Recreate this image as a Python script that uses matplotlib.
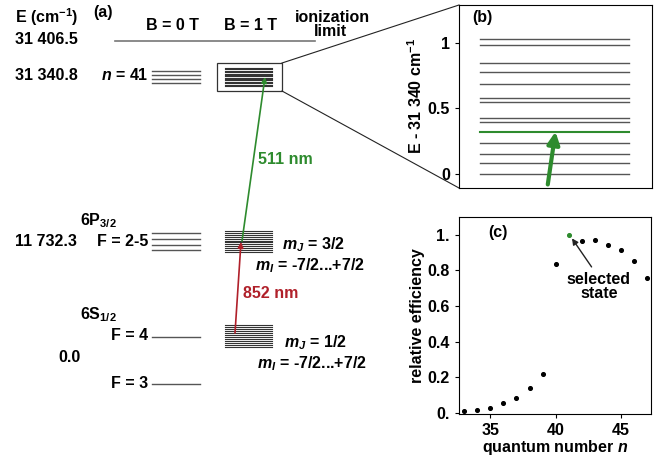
import numpy as np
import matplotlib.pyplot as plt
from matplotlib.patches import Rectangle

plt.rcParams['font.family'] = ['Liberation Sans', 'DejaVu Sans']
plt.rcParams['font.weight'] = 'bold'
plt.rcParams['axes.labelweight'] = 'bold'
plt.rcParams['mathtext.fontset'] = 'custom'
plt.rcParams['mathtext.rm'] = 'Liberation Sans:bold'
plt.rcParams['mathtext.it'] = 'Liberation Sans:italic:bold'
plt.rcParams['mathtext.bf'] = 'Liberation Sans:bold'

GREEN = '#2e8b2e'
RED = '#b0202a'

# panel (b): levels near n = 41 at B = 1 T (E - 31340 cm^-1)
b_levels = [1.03, 0.985, 0.85, 0.775, 0.687, 0.582, 0.548, 0.425, 0.40,
            0.24, 0.153, 0.086, 0.002]
b_selected = 0.323

# panel (c): relative efficiency vs quantum number
n_vals = [33, 34, 35, 36, 37, 38, 39, 40, 42, 43, 44, 45, 46, 47]
eff_vals = [0.01, 0.02, 0.03, 0.055, 0.085, 0.14, 0.22, 0.835,
            0.965, 0.97, 0.945, 0.915, 0.855, 0.76]
n_sel, eff_sel = 41, 1.0

# panel (a): level diagram, positions in figure pixels
ryd_b0 = [71, 75, 79, 83]
p_b0 = [233, 239, 245, 250]
s_b0 = [337, 384]
ryd_b1 = np.linspace(68, 86, 14)
p_b1 = np.linspace(231, 252, 12)
s_b1 = np.linspace(325, 347, 12)

W, H = 659, 457
fig = plt.figure(figsize=(W / 100, H / 100), dpi=100)

ax = fig.add_axes([0, 0, 1, 1])
ax.set_xlim(0, W)
ax.set_ylim(H, 0)
ax.axis('off')

fs = 11.5
ax.plot([115, 315], [41, 41], color='#777777', lw=1.2)
for y in ryd_b0 + p_b0 + s_b0:
    ax.plot([152, 200], [y, y], color='#555555', lw=1)
for ys in (ryd_b1, p_b1, s_b1):
    for y in ys:
        ax.plot([225, 272], [y, y], color='#333333', lw=0.8)
ax.add_patch(Rectangle((217, 63), 65, 28, fill=False, lw=0.9, color='#333333'))
ax.plot([282, 459], [63, 5], color='#222222', lw=0.8)
ax.plot([282, 459], [91, 188], color='#222222', lw=0.8)

ax.annotate('', xy=(265, 77), xytext=(242, 241),
            arrowprops=dict(arrowstyle='-|>', color=GREEN, lw=1.2,
                            mutation_scale=8, shrinkA=0, shrinkB=0))
ax.annotate('', xy=(241, 242), xytext=(235, 333),
            arrowprops=dict(arrowstyle='-|>', color=RED, lw=1.2,
                            mutation_scale=8, shrinkA=0, shrinkB=0))

def t(x, y, s, ha='left', **kw):
    ax.text(x, y, s, ha=ha, va='center', fontsize=kw.pop('size', fs),
            fontweight='bold', **kw)

t(15, 17, r'E (cm$^{\mathregular{-1}}$)')
t(93, 12, '(a)')
t(15, 39, '31 406.5')
t(172, 25, 'B = 0 T', ha='center')
t(251, 25, 'B = 1 T', ha='center')
t(332, 17, 'ionization', ha='center')
t(330, 32, 'limit', ha='center')
t(15, 75, '31 340.8')
t(148, 75, r'$n$ = 41', ha='right')
t(80, 221, r'6P$_{\mathregular{3/2}}$')
t(15, 241, '11 732.3')
t(148, 241, 'F = 2-5', ha='right')
t(282, 245, r'$m_J$ = 3/2')
t(255, 266, r'$m_I$ = -7/2...+7/2')
t(243, 294, '852 nm', color=RED)
t(258, 160, '511 nm', color=GREEN)
t(80, 315, r'6S$_{\mathregular{1/2}}$')
t(148, 335, 'F = 4', ha='right')
t(284, 343, r'$m_J$ = 1/2')
t(257, 364, r'$m_I$ = -7/2...+7/2')
t(58, 358, '0.0')
t(148, 383, 'F = 3', ha='right')

# panel (b)
axb = fig.add_axes([459 / W, 1 - 188 / H, 193 / W, 183 / H])
for y in b_levels:
    axb.plot([0.11, 0.88], [y, y], color='#555555', lw=1)
axb.plot([0.11, 0.88], [b_selected, b_selected], color=GREEN, lw=1.5)
axb.annotate('', xy=(0.5, b_selected), xytext=(0.46, -0.08),
             arrowprops=dict(arrowstyle='-|>', color=GREEN, lw=3,
                             mutation_scale=18, shrinkA=0, shrinkB=0))
axb.set_xlim(0, 1)
axb.set_ylim(-0.107, 1.29)
axb.set_xticks([])
axb.set_yticks([0, 0.5, 1])
axb.set_yticklabels(['0', '0.5', '1'])
axb.set_ylabel(r'E - 31 340 cm$^{\mathregular{-1}}$', fontsize=fs, labelpad=2)
axb.text(0.07, 0.93, '(b)', transform=axb.transAxes, fontsize=fs, va='center')

# panel (c)
axc = fig.add_axes([459 / W, 1 - 414 / H, 192 / W, 197 / H])
axc.scatter(n_vals, eff_vals, s=7, color='black', zorder=3)
axc.scatter([n_sel], [eff_sel], s=7, color=GREEN, zorder=3)
axc.annotate('', xy=(41.25, 0.98), xytext=(42.75, 0.82),
             arrowprops=dict(arrowstyle='-|>', color='#222222', lw=1,
                             mutation_scale=9, shrinkA=0, shrinkB=0))
axc.text(43.3, 0.71, 'selected\nstate', ha='center', va='center',
         fontsize=fs, linespacing=0.9)
axc.set_xlim(32.6, 47.3)
axc.set_ylim(-0.005, 1.1)
axc.set_xticks([35, 40, 45])
axc.set_yticks([0, 0.2, 0.4, 0.6, 0.8, 1.0])
axc.set_yticklabels(['0.', '0.2', '0.4', '0.6', '0.8', '1.'])
axc.set_xlabel(r'quantum number $n$', fontsize=fs, labelpad=0)
axc.set_ylabel('relative efficiency', fontsize=fs, labelpad=2)
axc.text(0.15, 0.92, '(c)', transform=axc.transAxes, fontsize=fs, va='center')

for a in (axb, axc):
    a.tick_params(labelsize=fs, length=3)
    for lbl in a.get_xticklabels() + a.get_yticklabels():
        lbl.set_fontweight('bold')

fig.savefig('out.png', dpi=100)
